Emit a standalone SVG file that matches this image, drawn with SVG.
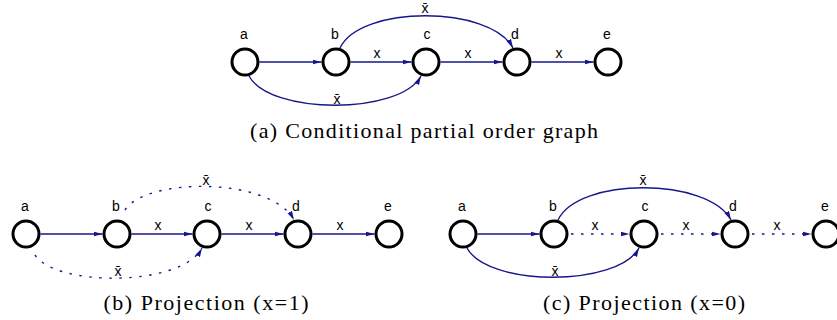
<svg xmlns="http://www.w3.org/2000/svg" width="837" height="320" viewBox="0 0 837 320">
<defs>
<marker id="ah" markerUnits="userSpaceOnUse" markerWidth="10" markerHeight="7" refX="9" refY="3.5" orient="auto">
<path d="M0,1 L9,3.5 L0,6 z" fill="#16168c"/>
</marker>
<style>
.n{fill:#fff;stroke:#000;stroke-width:3}
.e{fill:none;stroke:#16168c;stroke-width:1.4;marker-end:url(#ah)}
.d{stroke-dasharray:2.5 7.5}
.l{font-family:"Liberation Sans",Arial,sans-serif;font-size:14px;text-anchor:middle;fill:#000}
.c{font-family:"Liberation Serif","Times New Roman",serif;font-size:22px;text-anchor:middle;fill:#000}
</style>
</defs>

<!-- (a) -->
<g id="graph-a">
<g id="connectors-a">
<path class="e" d="M259.5,62 L321.5,62"/>
<path class="e" d="M350.5,62 L411.5,62"/>
<path class="e" d="M440.5,62 L502.5,62"/>
<path class="e" d="M531.5,62 L593.5,62"/>
<path class="e" d="M340,48 C360,5 490,5 513,48"/>
<path class="e" d="M249,76 C270,115 400,115 421,76"/>
<text class="l" x="377" y="58">x</text>
<text class="l" x="468" y="58">x</text>
<text class="l" x="559" y="58">x</text>
<text class="l" x="425" y="13">x̄</text>
<text class="l" x="337" y="104">x̄</text>
</g>
<g id="a-a"><circle class="n" cx="245" cy="62" r="13"/><text class="l" x="244" y="39">a</text></g>
<g id="a-b"><circle class="n" cx="336" cy="62" r="13"/><text class="l" x="335" y="39">b</text></g>
<g id="a-c"><circle class="n" cx="426" cy="62" r="13"/><text class="l" x="427" y="39">c</text></g>
<g id="a-d"><circle class="n" cx="517" cy="62" r="13"/><text class="l" x="515" y="39">d</text></g>
<g id="a-e"><circle class="n" cx="608" cy="62" r="13"/><text class="l" x="607" y="39">e</text></g>
</g>
<text class="c" x="424" y="138" textLength="348" lengthAdjust="spacing">(a) Conditional partial order graph</text>

<!-- (b) -->
<g id="graph-b" transform="translate(-219,172)">
<g id="connectors-b">
<path class="e" d="M259.5,62 L321.5,62"/>
<path class="e" d="M350.5,62 L411.5,62"/>
<path class="e" d="M440.5,62 L502.5,62"/>
<path class="e" d="M531.5,62 L593.5,62"/>
<path class="e d" d="M344,38 C365,5 490,5 513,48"/>
<path class="e d" d="M254,83 C275,115 400,115 421,76"/>
<text class="l" x="377" y="58">x</text>
<text class="l" x="468" y="58">x</text>
<text class="l" x="559" y="58">x</text>
<text class="l" x="425" y="13">x̄</text>
<text class="l" x="337" y="104">x̄</text>
</g>
<g id="b-a"><circle class="n" cx="245" cy="62" r="13"/><text class="l" x="244" y="39">a</text></g>
<g id="b-b"><circle class="n" cx="336" cy="62" r="13"/><text class="l" x="335" y="39">b</text></g>
<g id="b-c"><circle class="n" cx="426" cy="62" r="13"/><text class="l" x="427" y="39">c</text></g>
<g id="b-d"><circle class="n" cx="517" cy="62" r="13"/><text class="l" x="515" y="39">d</text></g>
<g id="b-e"><circle class="n" cx="608" cy="62" r="13"/><text class="l" x="607" y="39">e</text></g>
</g>
<text class="c" x="206" y="310" textLength="205" lengthAdjust="spacing">(b) Projection (x=1)</text>

<!-- (c) -->
<g id="graph-c" transform="translate(218,172)">
<g id="connectors-c">
<path class="e" d="M259.5,62 L321.5,62"/>
<path class="e d" d="M353,62 L411.5,62"/>
<path class="e d" d="M443,62 L502.5,62"/>
<path class="e d" d="M534,62 L593.5,62"/>
<path class="e" d="M340,48 C360,5 490,5 513,48"/>
<path class="e" d="M249,76 C270,115 400,115 421,76"/>
<text class="l" x="377" y="58">x</text>
<text class="l" x="468" y="58">x</text>
<text class="l" x="559" y="58">x</text>
<text class="l" x="425" y="13">x̄</text>
<text class="l" x="337" y="104">x̄</text>
</g>
<g id="c-a"><circle class="n" cx="245" cy="62" r="13"/><text class="l" x="244" y="39">a</text></g>
<g id="c-b"><circle class="n" cx="336" cy="62" r="13"/><text class="l" x="335" y="39">b</text></g>
<g id="c-c"><circle class="n" cx="426" cy="62" r="13"/><text class="l" x="427" y="39">c</text></g>
<g id="c-d"><circle class="n" cx="517" cy="62" r="13"/><text class="l" x="515" y="39">d</text></g>
<g id="c-e"><circle class="n" cx="608" cy="62" r="13"/><text class="l" x="607" y="39">e</text></g>
</g>
<text class="c" x="644" y="310" textLength="202" lengthAdjust="spacing">(c) Projection (x=0)</text>
</svg>
